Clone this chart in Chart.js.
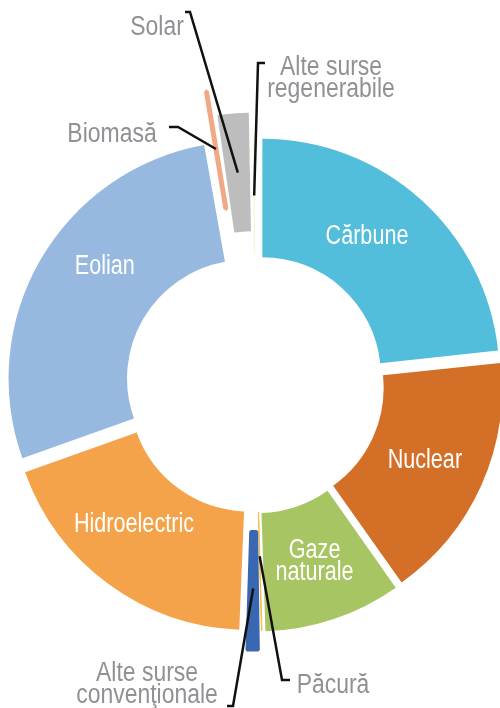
<!DOCTYPE html>
<html>
<head>
<meta charset="utf-8">
<script src="https://cdn.jsdelivr.net/npm/chart.js@4.4.0/dist/chart.umd.min.js"></script>
<style>
  html, body { margin: 0; padding: 0; background: #fff; }
</style>
</head>
<body>
<canvas id="mixEnergetic" width="500" height="708"></canvas>
<script>
// Date
const surse = ["Cărbune", "Nuclear", "Gaze naturale", "Păcură", "Alte surse convenţionale",
               "Hidroelectric", "Eolian", "Biomasă", "Solar", "Alte surse regenerabile"];
const procente = [23.3, 16.9, 9.3, 0.14, 1.0, 18.9, 27.66, 0.36, 2.3, 0.14];

// Stil
const culori = ["#52bedb", "#d46f28", "#a8c563", "#f2be4a", "#3a67b1",
                "#f5a34a", "#97b8df", "#f0a887", "#bdbdbd", "#fbf3da"];
const departare = [44, 39, 30, 20, 60, 41, 43, 120, 74, 24];
// feliile foarte subtiri se ingusteaza din cauza offset-ului, le ingrosam cu bordura
const bordura = [0, 0, 0, 1, 3, 0, 0, 5, 0, 1];

// etichete albe in felii: index, randuri, pozitie relativa (unghi, raza)
const eticheteInterior = [
    { i: 0, randuri: ["Cărbune"], fa: 0.44, fr: 0.47 },
    { i: 1, randuri: ["Nuclear"], fa: 0.5, fr: 0.48 },
    { i: 2, randuri: ["Gaze", "naturale"], fa: 0.5, fr: 0.49 },
    { i: 5, randuri: ["Hidroelectric"], fa: 0.57, fr: 0.47 },
    { i: 6, randuri: ["Eolian"], fa: 0.585, fr: 0.52 }
];
// etichete gri in afara, cu linie de legatura
const eticheteExterior = [
    { i: 8, randuri: ["Solar"], x: 157, y: 35, fr: 0.5, cot: [[190, 12], [185, 12]] },
    { i: 9, randuri: ["Alte surse", "regenerabile"], x: 331, y: 75, fr: 0.49, cot: [[258, 63], [265, 63]] },
    { i: 7, randuri: ["Biomasă"], x: 112, y: 142, fr: 0.51, cot: [[178, 127], [169, 127]] },
    { i: 4, randuri: ["Alte surse", "convenţionale"], x: 147, y: 681, fr: 0.48, cot: [[233, 706], [227, 706]] },
    { i: 3, randuri: ["Păcură"], x: 333, y: 693, fr: 0.37, cot: [[282, 680], [290, 680]] }
];

const FONT = '27px "Liberation Sans", Arial, sans-serif';

// punct pe felie, tinand cont de offset (ca in ArcElement.draw)
function punctPeFelie(el, fa, fr) {
    const circ = el.endAngle - el.startAngle;
    const mid = (el.startAngle + el.endAngle) / 2;
    const o = (el.options.offset || 0) / 4;
    const fix = 1 - Math.sin(Math.min(Math.PI, circ));
    const a = el.startAngle + circ * fa;
    const r = el.innerRadius + o * fix + (el.outerRadius - el.innerRadius) * fr;
    return {
        x: el.x + Math.cos(mid) * o + Math.cos(a) * r,
        y: el.y + Math.sin(mid) * o + Math.sin(a) * r
    };
}

function textIngust(ctx, text, x, y, sx) {
    ctx.save();
    ctx.translate(x, y);
    ctx.scale(sx, 1);
    ctx.fillText(text, 0, 0);
    ctx.restore();
}

const pluginEtichete = {
    id: "etichete",
    afterDatasetsDraw(chart) {
        const ctx = chart.ctx;
        const arce = chart.getDatasetMeta(0).data;
        ctx.save();
        ctx.font = FONT;
        ctx.textAlign = "center";

        // interior
        ctx.fillStyle = "#ffffff";
        ctx.textBaseline = "middle";
        eticheteInterior.forEach(e => {
            const p = punctPeFelie(arce[e.i], e.fa, e.fr);
            const n = e.randuri.length;
            e.randuri.forEach((t, k) => {
                textIngust(ctx, t, p.x, p.y + (k - (n - 1) / 2) * 22, 0.8);
            });
        });

        // exterior
        ctx.textBaseline = "alphabetic";
        eticheteExterior.forEach(e => {
            const p = punctPeFelie(arce[e.i], 0.5, e.fr);
            ctx.beginPath();
            ctx.moveTo(p.x, p.y);
            e.cot.forEach(c => ctx.lineTo(c[0], c[1]));
            ctx.strokeStyle = "#111111";
            ctx.lineWidth = 2.5;
            ctx.stroke();
            ctx.fillStyle = "#8f9194";
            e.randuri.forEach((t, k) => {
                textIngust(ctx, t, e.x, e.y + k * 22, 0.85);
            });
        });
        ctx.restore();
    }
};

const ctx = document.getElementById("mixEnergetic").getContext("2d");
new Chart(ctx, {
    type: "doughnut",
    data: {
        labels: surse,
        datasets: [{
            data: procente,
            backgroundColor: culori,
            borderColor: culori,
            borderWidth: bordura,
            offset: departare,
            hoverOffset: 0
        }]
    },
    options: {
        responsive: false,
        animation: false,
        devicePixelRatio: 1,
        events: [],
        radius: 237,
        cutout: "50%",
        layout: { padding: { left: 10, top: 60 } },
        plugins: {
            legend: { display: false },
            tooltip: { enabled: false }
        }
    },
    plugins: [pluginEtichete]
});
</script>
</body>
</html>
